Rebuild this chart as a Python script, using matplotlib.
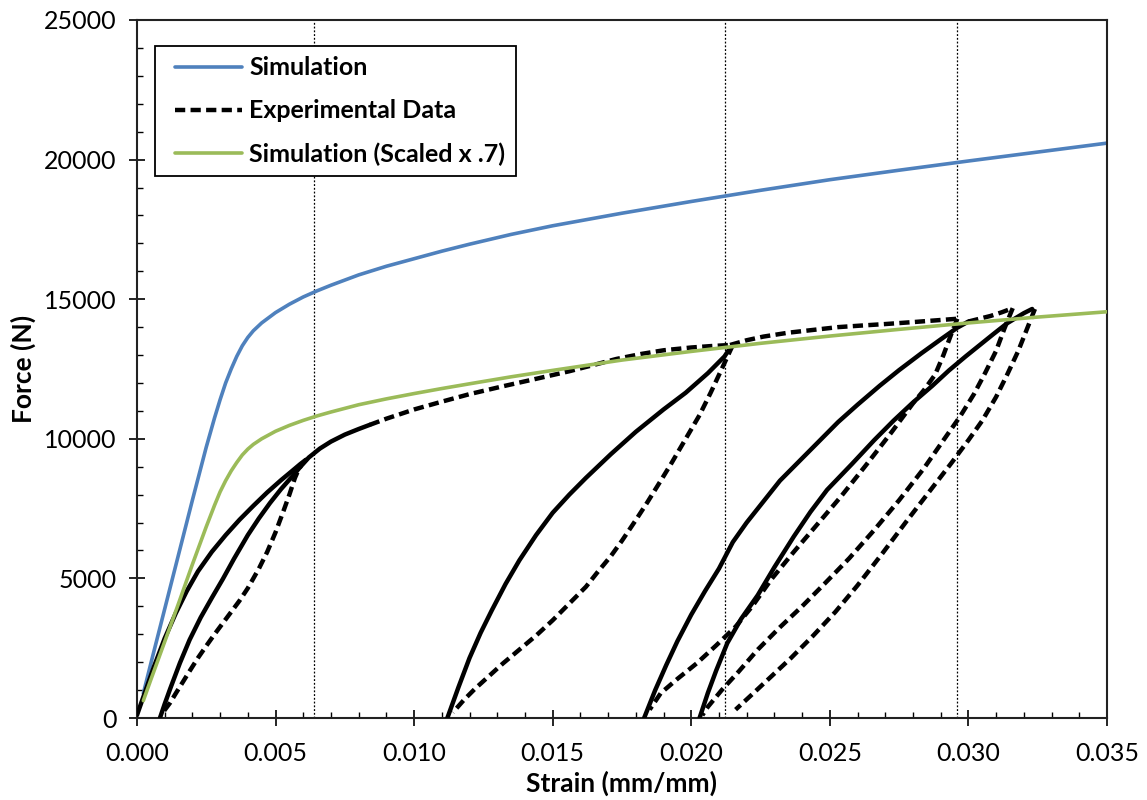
import matplotlib
matplotlib.use("Agg")
import matplotlib.pyplot as plt
from matplotlib.lines import Line2D
from matplotlib.legend_handler import HandlerLine2D
from matplotlib.ticker import MultipleLocator, FormatStrFormatter

plt.rcParams["font.family"] = ["Lato", "DejaVu Sans"]

# ---- simulation (N vs mm/mm) ----
sim_strain = [0.00023, 0.0005, 0.0010, 0.0015, 0.0020, 0.0025, 0.0028, 0.0030,
              0.0032, 0.0034, 0.0036, 0.0038, 0.0040, 0.0042, 0.0045, 0.0050,
              0.0055, 0.0060, 0.0065, 0.0070, 0.0080, 0.0090, 0.0100, 0.0110,
              0.0120, 0.0135, 0.0150, 0.0175, 0.0200, 0.0225, 0.0250, 0.0275,
              0.0300, 0.0325, 0.0350]
sim_force = [880, 1950, 3900, 5850, 7800, 9700, 10750, 11400,
             12000, 12500, 12950, 13330, 13630, 13870, 14150, 14520,
             14820, 15080, 15300, 15500, 15870, 16180, 16450, 16720,
             16970, 17320, 17630, 18080, 18500, 18900, 19280, 19620,
             19950, 20270, 20590]

# simulation scaled by 0.7
scaled_force = [620, 1370, 2730, 4100, 5500, 6850, 7620, 8100,
                8500, 8850, 9150, 9420, 9630, 9800, 10000, 10270,
                10480, 10660, 10820, 10960, 11220, 11430, 11620, 11800,
                11970, 12220, 12450, 12820, 13130, 13420, 13680, 13920,
                14150, 14360, 14550]

# ---- experimental cyclic test, split by branch ----
load1_strain = [0.0000, 0.0003, 0.0006, 0.0010, 0.0014, 0.0018, 0.0022, 0.0027,
                0.0032, 0.0037, 0.0042, 0.0047, 0.0052, 0.0056, 0.0059, 0.0061]
load1_force = [100, 950, 1800, 2850, 3750, 4550, 5250, 5950,
               6550, 7100, 7600, 8080, 8520, 8850, 9100, 9250]

unload1_strain = [0.0061, 0.0059, 0.0057, 0.0055, 0.0053, 0.0050, 0.0047, 0.0044,
                  0.0040, 0.0037, 0.0034, 0.0031, 0.0028, 0.0025, 0.0022, 0.0019,
                  0.0016, 0.0014, 0.0012, 0.0009]
unload1_force = [9250, 9050, 8600, 8000, 7450, 6650, 5950, 5350,
                 4650, 4200, 3800, 3400, 3000, 2580, 2150, 1680,
                 1200, 880, 550, 150]

reload1_strain = [0.00083, 0.0010, 0.0012, 0.00155, 0.0019, 0.0023, 0.0027, 0.0031,
                  0.0035, 0.0040, 0.0044, 0.0048, 0.0052, 0.0056, 0.0059]
reload1_force = [0, 500, 1050, 1970, 2800, 3600, 4300, 4980,
                 5700, 6550, 7150, 7700, 8200, 8650, 9000]

env1_strain = [0.0059, 0.0062, 0.0066, 0.0070, 0.0075, 0.0080, 0.0084]
env1_force = [9000, 9330, 9650, 9900, 10150, 10350, 10500]

env1b_strain = [0.0084, 0.0090, 0.0100, 0.0110, 0.0120, 0.0132, 0.0145, 0.0156,
                0.0165, 0.0173, 0.0182, 0.0190, 0.0200, 0.0207, 0.0214]
env1b_force = [10500, 10720, 11050, 11330, 11600, 11880, 12170, 12420,
               12650, 12860, 13040, 13170, 13270, 13320, 13360]

unload2_strain = [0.0215, 0.0211, 0.0207, 0.0203, 0.0198, 0.0193, 0.0189, 0.0184,
                  0.0180, 0.0175, 0.0171, 0.0166, 0.0162, 0.0156, 0.0150, 0.0144,
                  0.0138, 0.0132, 0.0127, 0.0122, 0.0118, 0.0114]
unload2_force = [13360, 12500, 11650, 10850, 10000, 9150, 8500, 7700,
                 7090, 6350, 5800, 5200, 4700, 4100, 3500, 2950,
                 2450, 1950, 1500, 1050, 650, 200]

reload2_strain = [0.0112, 0.0116, 0.0120, 0.0124, 0.0128, 0.0133, 0.0138, 0.0144,
                  0.0150, 0.0156, 0.0162, 0.0171, 0.0180, 0.0190, 0.0198, 0.0206,
                  0.0212, 0.0214]
reload2_force = [0, 1100, 2150, 3050, 3850, 4800, 5650, 6550,
                 7350, 8000, 8600, 9450, 10250, 11050, 11650, 12350,
                 12950, 13250]

env2_strain = [0.0214, 0.0220, 0.0226, 0.0235, 0.0244, 0.0253, 0.0262, 0.0270,
               0.0280, 0.0288, 0.0296]
env2_force = [13360, 13530, 13660, 13800, 13900, 14000, 14060, 14110,
              14180, 14240, 14300]

unload3_strain = [0.0296, 0.0294, 0.0291, 0.0288, 0.0284, 0.0280, 0.0272, 0.0263,
                  0.0254, 0.0245, 0.0237, 0.0229, 0.0222, 0.0216, 0.0209, 0.0202,
                  0.0195, 0.0189, 0.0185]
unload3_force = [14300, 13800, 13000, 12300, 11750, 11270, 10200, 9050,
                 7930, 6880, 5950, 4980, 4000, 3270, 2600, 1960,
                 1400, 890, 300]

reload3_strain = [0.0183, 0.0187, 0.0191, 0.0195, 0.0200, 0.0205, 0.0210, 0.0215,
                  0.0220, 0.0226, 0.0232, 0.0238, 0.0245, 0.0253, 0.0260, 0.0268,
                  0.0275, 0.0283, 0.0290, 0.0296, 0.0300]
reload3_force = [0, 1000, 1900, 2750, 3700, 4550, 5350, 6300,
                 7000, 7750, 8500, 9100, 9800, 10600, 11220, 11900,
                 12460, 13060, 13560, 13980, 14200]

env3_strain = [0.0300, 0.0304, 0.0308, 0.0312, 0.0316]
env3_force = [14200, 14300, 14400, 14530, 14680]

unload4_strain = [0.0316, 0.0313, 0.0310, 0.0306, 0.0302, 0.0297, 0.0291, 0.0284,
                  0.0275, 0.0266, 0.0257, 0.0248, 0.0240, 0.0232, 0.0224, 0.0217,
                  0.0211, 0.0206, 0.0204]
unload4_force = [14680, 13950, 13150, 12350, 11600, 10800, 9950, 8950,
                 7800, 6730, 5720, 4800, 4000, 3250, 2450, 1650,
                 1000, 400, 100]

reload4_strain = [0.0203, 0.0206, 0.0209, 0.0213, 0.0218, 0.0224, 0.0230, 0.0237,
                  0.0243, 0.0249, 0.0258, 0.0266, 0.0273, 0.0280, 0.0287, 0.0293,
                  0.0299, 0.0304, 0.0309, 0.0314, 0.0320, 0.0323]
reload4_force = [0, 900, 1700, 2680, 3550, 4400, 5400, 6500,
                 7380, 8170, 9100, 9950, 10650, 11300, 11900, 12450,
                 12950, 13350, 13750, 14140, 14500, 14650]

unload5_strain = [0.0324, 0.0321, 0.0318, 0.0314, 0.0310, 0.0305, 0.0300, 0.0294,
                  0.0287, 0.0278, 0.0269, 0.0260, 0.0252, 0.0244, 0.0236, 0.0229,
                  0.0222, 0.0216]
unload5_force = [14650, 13900, 13150, 12300, 11500, 10650, 9950, 9150,
                 8250, 7090, 5900, 4750, 3800, 2950, 2150, 1500,
                 850, 300]

# strains where the load was reversed
reversal_strain = [0.0064, 0.0212, 0.0296]

BLUE = "#4F81BD"
GREEN = "#9BBB59"

fig = plt.figure(figsize=(11.47, 8.0), dpi=100)
ax = fig.add_axes([0.1194, 0.1025, 0.8457, 0.8725])

for xs in reversal_strain:
    ax.axvline(xs, color="black", lw=0.9, ls=(0, (1.5, 1.5)), zorder=1)

sim_line, = ax.plot(sim_strain, sim_force, color=BLUE, lw=2.6, zorder=2,
                    solid_capstyle="round")

# dense recordings show up as solid, sparse ones as dashes
solid_parts = [(load1_strain, load1_force), (reload1_strain, reload1_force),
               (env1_strain, env1_force), (reload2_strain, reload2_force),
               (reload3_strain, reload3_force), (reload4_strain, reload4_force)]
dashed_parts = [(unload1_strain, unload1_force), (env1b_strain, env1b_force),
                (unload2_strain, unload2_force), (env2_strain, env2_force),
                (unload3_strain, unload3_force), (env3_strain, env3_force),
                (unload4_strain, unload4_force), (unload5_strain, unload5_force)]

for xs, ys in solid_parts:
    ax.plot(xs, ys, color="black", lw=3.2, zorder=3, solid_capstyle="round",
            solid_joinstyle="round")
exp_line = None
for xs, ys in dashed_parts:
    ln, = ax.plot(xs, ys, color="black", lw=3.2, ls=(0, (2.3, 1.2)), zorder=3,
                  dash_capstyle="butt")
    if exp_line is None:
        exp_line = ln

scaled_line, = ax.plot(sim_strain, scaled_force, color=GREEN, lw=2.6, zorder=4,
                       solid_capstyle="round")

ax.set_xlim(0, 0.035)
ax.set_ylim(0, 25000)
ax.xaxis.set_major_locator(MultipleLocator(0.005))
ax.xaxis.set_minor_locator(MultipleLocator(0.001))
ax.xaxis.set_major_formatter(FormatStrFormatter("%.3f"))
ax.yaxis.set_major_locator(MultipleLocator(5000))
ax.yaxis.set_minor_locator(MultipleLocator(1000))

ax.tick_params(which="major", direction="inout", length=11, width=1.2,
               labelsize=18, colors="black")
ax.tick_params(axis="x", which="major", pad=12)
ax.tick_params(axis="y", which="major", pad=9)
ax.tick_params(which="minor", direction="in", length=4, width=1.0)
for sp in ax.spines.values():
    sp.set_linewidth(1.5)
    sp.set_color("#222222")

ax.set_xlabel("Strain (mm/mm)", fontsize=19, fontweight="bold", labelpad=4)
ax.set_ylabel("Force (N)", fontsize=19, fontweight="bold", labelpad=6)

leg = ax.legend([sim_line, exp_line, scaled_line],
                ["Simulation", "Experimental Data", "Simulation (Scaled x .7)"],
                loc="upper left", bbox_to_anchor=(0.0186, 0.963), borderaxespad=0,
                fancybox=False, framealpha=1, edgecolor="black",
                prop={"size": 18, "weight": "bold"},
                handlelength=3.05, handletextpad=0.3, borderpad=0.42,
                labelspacing=0.8,
                handler_map={Line2D: HandlerLine2D(xpad=0.4)})
leg.get_frame().set_linewidth(1.3)
leg.set_zorder(10)

fig.savefig("out.png", dpi=100, facecolor="white")
